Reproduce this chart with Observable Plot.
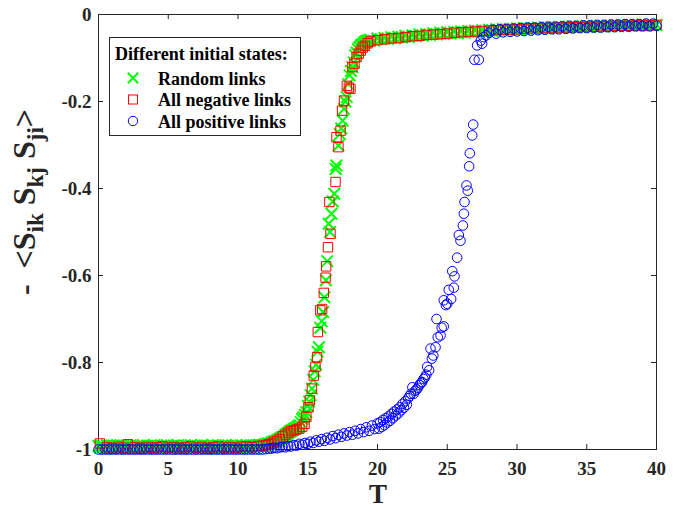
<!DOCTYPE html>
<html><head><meta charset="utf-8">
<script src="https://cdn.jsdelivr.net/npm/d3@7"></script>
<script src="https://cdn.jsdelivr.net/npm/@observablehq/plot@0.6"></script>
<style>html,body{margin:0;padding:0;background:#fff;}</style>
</head><body><div id="chart"></div>
<script>
const xTicks = [0, 5, 10, 15, 20, 25, 30, 35, 40];
const yTicks = [-1, -0.8, -0.6, -0.4, -0.2, 0];
const legendTitle = "Different initial states:";
const seriesNames = ["Random links", "All negative links", "All positive links"];

// [T, value] pairs
const randomLinks = [
[0,-0.992],[0.1,-0.996],[0.2,-0.991],[0.3,-0.995],[0.4,-0.993],[0.5,-0.997],[0.6,-0.99],[0.7,-0.994],[0.8,-0.992],[0.9,-0.996],
[1,-0.993],[1.1,-0.991],[1.2,-0.995],[1.3,-0.998],[1.4,-0.992],[1.5,-0.994],[1.6,-0.99],[1.7,-0.996],[1.8,-0.993],[1.9,-0.995],
[2,-0.991],[2.1,-0.997],[2.2,-0.993],[2.3,-0.99],[2.4,-0.995],[2.5,-0.992],[2.6,-0.996],[2.7,-0.994],[2.8,-0.991],[2.9,-0.997],
[3,-0.993],[3.1,-0.995],[3.2,-0.99],[3.3,-0.994],[3.4,-0.998],[3.5,-0.992],[3.6,-0.995],[3.7,-0.991],[3.8,-0.996],[3.9,-0.993],
[4,-0.99],[4.1,-0.995],[4.2,-0.992],[4.3,-0.997],[4.4,-0.994],[4.5,-0.991],[4.6,-0.996],[4.7,-0.993],[4.8,-0.995],[4.9,-0.99],
[5,-0.994],[5.1,-0.997],[5.2,-0.992],[5.3,-0.995],[5.4,-0.991],[5.5,-0.996],[5.6,-0.993],[5.7,-0.99],[5.8,-0.995],[5.9,-0.998],
[6,-0.992],[6.1,-0.994],[6.2,-0.991],[6.3,-0.996],[6.4,-0.993],[6.5,-0.995],[6.6,-0.99],[6.7,-0.997],[6.8,-0.993],[6.9,-0.991],
[7,-0.995],[7.1,-0.992],[7.2,-0.996],[7.3,-0.994],[7.4,-0.99],[7.5,-0.995],[7.6,-0.993],[7.7,-0.997],[7.8,-0.991],[7.9,-0.994],
[8,-0.992],[8.1,-0.996],[8.2,-0.99],[8.3,-0.995],[8.4,-0.993],[8.5,-0.998],[8.6,-0.991],[8.7,-0.994],[8.8,-0.992],[8.9,-0.996],
[9,-0.993],[9.1,-0.99],[9.2,-0.995],[9.3,-0.992],[9.4,-0.997],[9.5,-0.994],[9.6,-0.991],[9.7,-0.995],[9.8,-0.993],[9.9,-0.99],
[10,-0.994],[10.1,-0.996],[10.2,-0.991],[10.3,-0.994],[10.4,-0.992],[10.5,-0.995],[10.6,-0.99],[10.7,-0.993],[10.8,-0.996],[10.9,-0.991],
[11,-0.993],[11.1,-0.99],[11.2,-0.994],[11.3,-0.991],[11.4,-0.993],[11.5,-0.989],[11.6,-0.992],[11.7,-0.99],[11.8,-0.991],[11.9,-0.988],
[12,-0.989],[12.1,-0.987],[12.2,-0.986],[12.3,-0.988],[12.4,-0.984],[12.5,-0.983],[12.6,-0.981],[12.7,-0.982],[12.8,-0.979],[12.9,-0.977],
[13,-0.976],[13.1,-0.973],[13.2,-0.972],[13.3,-0.97],[13.4,-0.967],[13.5,-0.964],[13.6,-0.962],[13.7,-0.959],[13.8,-0.957],[13.9,-0.955],
[14,-0.953],[14.1,-0.951],[14.2,-0.95],[14.3,-0.947],[14.4,-0.944],[14.5,-0.937],[14.6,-0.93],[14.7,-0.926],[14.8,-0.92],[14.9,-0.914],
[15,-0.9],[15.1,-0.89],[15.2,-0.875],[15.3,-0.86],[15.4,-0.84],[15.5,-0.82],[15.6,-0.805],[15.7,-0.775],[15.8,-0.765],[15.9,-0.72],
[16,-0.705],[16.1,-0.684],[16.2,-0.65],[16.3,-0.611],[16.4,-0.567],[16.5,-0.481],[16.6,-0.5],[16.7,-0.458],[16.8,-0.43],[16.9,-0.412],
[17,-0.355],[17.05,-0.347],[17.2,-0.301],[17.3,-0.275],[17.4,-0.262],[17.5,-0.244],[17.6,-0.217],[17.7,-0.2],[17.8,-0.19],[17.9,-0.16],
[18,-0.14],[18.1,-0.13],[18.2,-0.121],[18.3,-0.11],[18.4,-0.094],[18.5,-0.088],[18.6,-0.08],[18.7,-0.075],[18.8,-0.071],[18.9,-0.069],
[19,-0.066],[19.1,-0.063],[19.2,-0.061],[19.3,-0.06],[19.4,-0.059],
[19.5,-0.058],[19.75,-0.06],[20,-0.055],[20.25,-0.057],[20.5,-0.054],[20.75,-0.056],[21,-0.052],[21.25,-0.055],[21.5,-0.051],[21.75,-0.053],
[22,-0.049],[22.25,-0.052],[22.5,-0.048],[22.75,-0.05],[23,-0.046],[23.25,-0.049],[23.5,-0.045],[23.75,-0.047],[24,-0.043],[24.25,-0.046],
[24.5,-0.042],[24.75,-0.045],[25,-0.041],[25.25,-0.044],[25.5,-0.04],[25.75,-0.043],[26,-0.039],[26.25,-0.042],[26.5,-0.038],[26.75,-0.041],
[27,-0.037],[27.25,-0.04],[27.5,-0.036],[27.75,-0.039],[28,-0.035],[28.25,-0.038],[28.5,-0.034],[28.75,-0.037],[29,-0.033],[29.25,-0.036],
[29.5,-0.033],[29.75,-0.035],[30,-0.032],[30.25,-0.035],[30.5,-0.031],[30.75,-0.034],[31,-0.031],[31.25,-0.033],[31.5,-0.03],[31.75,-0.033],
[32,-0.029],[32.25,-0.032],[32.5,-0.029],[32.75,-0.031],[33,-0.028],[33.25,-0.031],[33.5,-0.028],[33.75,-0.03],[34,-0.027],[34.25,-0.03],
[34.5,-0.027],[34.75,-0.029],[35,-0.026],[35.25,-0.029],[35.5,-0.026],[35.75,-0.028],[36,-0.025],[36.25,-0.028],[36.5,-0.025],[36.75,-0.027],
[37,-0.025],[37.25,-0.027],[37.5,-0.024],[37.75,-0.027],[38,-0.024],[38.25,-0.026],[38.5,-0.024],[38.75,-0.026],[39,-0.023],[39.25,-0.026],
[39.5,-0.023],[39.75,-0.025],[40,-0.024]
];

const allNegativeLinks = [
[0.1,-0.986],[0.6,-0.995],[1,-0.997],[1.4,-0.994],[1.8,-0.996],[2.1,-0.988],[2.6,-0.995],[3,-0.997],[3.4,-0.994],[3.8,-0.996],
[4.2,-0.995],[4.6,-0.993],[5,-0.996],[5.4,-0.994],[5.8,-0.997],[6.2,-0.995],[6.6,-0.993],[7,-0.996],[7.4,-0.994],[7.8,-0.997],
[8.2,-0.995],[8.6,-0.993],[9,-0.996],[9.4,-0.994],[9.8,-0.996],[10.2,-0.994],[10.6,-0.993],[11,-0.995],[11.4,-0.992],[11.8,-0.991],
[12,-0.99],[12.2,-0.988],[12.4,-0.986],[12.6,-0.982],[12.8,-0.98],[13,-0.976],[13.2,-0.97],[13.4,-0.966],[13.6,-0.962],[13.8,-0.958],
[14,-0.956],[14.2,-0.954],[14.4,-0.952],[14.6,-0.948],[14.77,-0.941],[14.9,-0.925],[15.05,-0.903],[15.15,-0.887],[15.3,-0.86],[15.43,-0.83],
[15.55,-0.81],[15.67,-0.788],[15.72,-0.73],[15.9,-0.68],[16.03,-0.677],[16.15,-0.64],[16.28,-0.605],[16.32,-0.579],[16.45,-0.535],[16.55,-0.431],
[16.63,-0.504],[16.99,-0.385],[17.06,-0.282],[17.2,-0.305],[17.35,-0.267],[17.46,-0.221],[17.6,-0.198],[17.8,-0.164],[17.95,-0.168],[18.06,-0.171],
[18.2,-0.121],[18.35,-0.113],[18.5,-0.098],[18.65,-0.09],[18.8,-0.083],[18.95,-0.076],[19.1,-0.072],[19.3,-0.066],
[19.5,-0.062],[20,-0.059],[20.5,-0.057],[21,-0.055],[21.5,-0.054],[22,-0.052],[22.5,-0.05],[23,-0.049],[23.5,-0.047],[24,-0.046],
[24.5,-0.045],[25,-0.044],[25.5,-0.042],[26,-0.041],[26.5,-0.04],[27,-0.039],[27.5,-0.038],[28,-0.037],[28.5,-0.036],[29,-0.035],
[29.5,-0.035],[30,-0.034],[30.5,-0.033],[31,-0.032],[31.5,-0.032],[32,-0.031],[32.5,-0.031],[33,-0.03],[33.5,-0.03],[34,-0.029],
[34.5,-0.029],[35,-0.028],[35.5,-0.028],[36,-0.027],[36.5,-0.027],[37,-0.026],[37.5,-0.026],[38,-0.026],[38.5,-0.025],[39,-0.025],
[39.5,-0.025],[40,-0.024]
];

const allPositiveLinks = [
[0,-1],[0.25,-1],[0.5,-1],[0.75,-1],[1,-1],[1.25,-1],[1.5,-1],[1.75,-1],[2,-1],[2.25,-1],[2.5,-1],[2.75,-1],
[3,-1],[3.25,-1],[3.5,-1],[3.75,-1],[4,-1],[4.25,-1],[4.5,-1],[4.75,-1],[5,-1],[5.25,-1],[5.5,-1],[5.75,-1],
[6,-1],[6.25,-1],[6.5,-1],[6.75,-1],[7,-1],[7.25,-1],[7.5,-1],[7.75,-1],[8,-1],[8.25,-1],[8.5,-1],[8.75,-1],
[9,-1],[9.25,-1],[9.5,-1],[9.75,-1],[10,-1],[10.25,-1],[10.5,-1],[10.75,-1],[11,-1],[11.25,-1],[11.5,-1],[11.75,-1],
[12,-0.999],[12.2,-0.998],[12.4,-0.998],[12.6,-0.996],[12.8,-0.997],[13,-0.995],[13.2,-0.994],[13.4,-0.995],[13.6,-0.992],[13.8,-0.993],
[14,-0.99],[14.2,-0.991],[14.4,-0.987],[14.6,-0.989],[14.8,-0.985],[15,-0.987],[15.2,-0.982],[15.4,-0.985],[15.6,-0.979],[15.8,-0.982],
[16,-0.976],[16.2,-0.98],[16.4,-0.973],[16.6,-0.977],[16.8,-0.969],[17,-0.974],[17.2,-0.966],[17.4,-0.971],[17.6,-0.963],[17.8,-0.968],
[18,-0.96],[18.2,-0.966],[18.4,-0.957],[18.6,-0.963],[18.8,-0.953],[19,-0.96],[19.2,-0.949],[19.4,-0.957],[19.6,-0.945],[19.8,-0.953],
[20,-0.94],[20.1,-0.952],[20.2,-0.937],[20.3,-0.948],[20.4,-0.932],[20.5,-0.944],[20.6,-0.928],[20.7,-0.938],[20.8,-0.924],[20.9,-0.934],
[21,-0.918],[21.1,-0.928],[21.2,-0.913],[21.3,-0.922],[21.4,-0.908],[21.5,-0.917],[21.6,-0.903],[21.7,-0.91],[21.8,-0.895],[21.9,-0.904],
[22,-0.889],[22.1,-0.897],[22.2,-0.882],[22.3,-0.877],[22.4,-0.872],[22.5,-0.857],[22.6,-0.872],[22.7,-0.865],[22.8,-0.862],[22.9,-0.858],
[23,-0.852],[23.1,-0.848],[23.2,-0.845],[23.3,-0.838],[23.4,-0.834],[23.5,-0.828],[23.56,-0.81],[23.7,-0.818],[23.8,-0.768],[23.9,-0.791],
[24,-0.784],[24.16,-0.765],[24.23,-0.7],[24.32,-0.742],[24.52,-0.738],[24.6,-0.72],[24.75,-0.717],[24.75,-0.657],[24.9,-0.668],[25,-0.665],
[25.11,-0.633],[25.28,-0.654],[25.36,-0.59],[25.47,-0.628],[25.52,-0.602],[25.71,-0.559],[25.83,-0.507],[25.95,-0.52],[26.12,-0.485],[26.19,-0.458],
[26.24,-0.431],[26.38,-0.393],[26.47,-0.405],[26.57,-0.349],[26.62,-0.319],[26.79,-0.278],[26.86,-0.253],[26.95,-0.104],[27.14,-0.071],[27.26,-0.104],
[27.4,-0.06],[27.5,-0.067],[27.6,-0.052],[27.8,-0.048],
[28,-0.042],[28.25,-0.035],[28.5,-0.044],[28.75,-0.034],[29,-0.041],[29.25,-0.033],[29.5,-0.04],[29.75,-0.032],[30,-0.039],[30.25,-0.031],
[30.5,-0.038],[30.75,-0.03],[31,-0.037],[31.25,-0.03],[31.5,-0.036],[31.75,-0.029],[32,-0.035],[32.25,-0.028],[32.5,-0.034],[32.75,-0.028],
[33,-0.034],[33.25,-0.027],[33.5,-0.033],[33.75,-0.026],[34,-0.032],[34.25,-0.026],[34.5,-0.031],[34.75,-0.025],[35,-0.031],[35.25,-0.025],
[35.5,-0.03],[35.75,-0.024],[36,-0.03],[36.25,-0.024],[36.5,-0.029],[36.75,-0.023],[37,-0.029],[37.25,-0.023],[37.5,-0.028],[37.75,-0.022],
[38,-0.028],[38.25,-0.022],[38.5,-0.027],[38.75,-0.022],[39,-0.027],[39.25,-0.021],[39.5,-0.027],[39.75,-0.021],[40,-0.026]
];

const W = 684, H = 513, mL = 98, mR = 28, mT = 14, mB = 64;
const innerW = W - mL - mR, innerH = H - mT - mB;
const ink = "#262626";
const serif = "'Liberation Serif','Times New Roman',serif";

const plot = Plot.plot({
  width: W, height: H,
  marginLeft: mL, marginRight: mR, marginTop: mT, marginBottom: mB,
  x: {domain: [0, 40]},
  y: {domain: [-1, 0]},
  style: {fontFamily: serif, fontSize: "19px", fontWeight: "bold", color: ink, background: "#fff", overflow: "visible"},
  marks: [
    Plot.frame({stroke: ink}),
    Plot.tickX(xTicks, {x: d => d, stroke: ink, insetTop: innerH - 5}),
    Plot.tickX(xTicks, {x: d => d, stroke: ink, insetBottom: innerH - 5}),
    Plot.tickY(yTicks, {y: d => d, stroke: ink, insetRight: innerW - 5}),
    Plot.tickY(yTicks, {y: d => d, stroke: ink, insetLeft: innerW - 5}),
    Plot.axisX(xTicks, {tickSize: 0, tickPadding: 12, label: null}),
    Plot.axisY(yTicks, {tickSize: 0, tickPadding: 7, label: null, tickFormat: d => d === 0 ? "0" : String(d)}),
    Plot.dot(randomLinks, {x: d => d[0], y: d => d[1], symbol: "times", r: 5.3, stroke: "#00ff00", strokeWidth: 2}),
    Plot.dot(allNegativeLinks, {x: d => d[0], y: d => d[1], symbol: "square", r: 5.3, stroke: "#ff0000", strokeWidth: 1}),
    Plot.dot(allPositiveLinks, {x: d => d[0], y: d => d[1], symbol: "circle", r: 4.8, stroke: "#0000ff", strokeWidth: 1})
  ]
});
document.getElementById("chart").appendChild(plot);

const svg = d3.select(plot);
// x label
svg.append("text").attr("x", 378).attr("y", 503).attr("text-anchor", "middle")
  .attr("font-family", serif).attr("font-weight", "bold").attr("font-size", 27).attr("fill", ink).text("T");
// y label with subscripts
const yl = svg.append("text").attr("transform", "translate(35,202) rotate(-90)").attr("text-anchor", "middle")
  .attr("font-family", serif).attr("font-weight", "bold").attr("font-size", 32).attr("fill", ink)
  .attr("xml:space", "preserve").style("white-space", "pre");
yl.append("tspan").text("-  <S");
yl.append("tspan").attr("font-size", 23).attr("dy", 8).text("ik");
yl.append("tspan").attr("dy", -8).text(" S");
yl.append("tspan").attr("font-size", 23).attr("dy", 8).text("kj");
yl.append("tspan").attr("dy", -8).text(" S");
yl.append("tspan").attr("font-size", 23).attr("dy", 8).text("ji");
yl.append("tspan").attr("dy", -8).text(">");

// legend
const lg = svg.append("g").attr("font-family", serif).attr("font-weight", "bold").attr("font-size", 18)
  .attr("fill", "#000").attr("text-anchor", "start");
lg.append("rect").attr("x", 109.5).attr("y", 37.5).attr("width", 191).attr("height", 98)
  .attr("fill", "#fff").attr("stroke", ink).attr("stroke-width", 1);
lg.append("text").attr("x", 115).attr("y", 60).text(legendTitle);
const rowY = [78, 99.5, 121];
const mk = 5.2;
lg.append("path").attr("d", `M${133-mk},${rowY[0]-mk}L${133+mk},${rowY[0]+mk}M${133-mk},${rowY[0]+mk}L${133+mk},${rowY[0]-mk}`)
  .attr("stroke", "#00ff00").attr("stroke-width", 2).attr("fill", "none");
lg.append("rect").attr("x", 133 - 4.5).attr("y", rowY[1] - 4.5).attr("width", 9).attr("height", 9)
  .attr("stroke", "#ff0000").attr("fill", "none");
lg.append("circle").attr("cx", 133).attr("cy", rowY[2]).attr("r", 4.7).attr("stroke", "#0000ff").attr("fill", "none");
seriesNames.forEach((s, i) => {
  lg.append("text").attr("x", 158).attr("y", rowY[i] + 6.5).text(s);
});
</script>
</body></html>
